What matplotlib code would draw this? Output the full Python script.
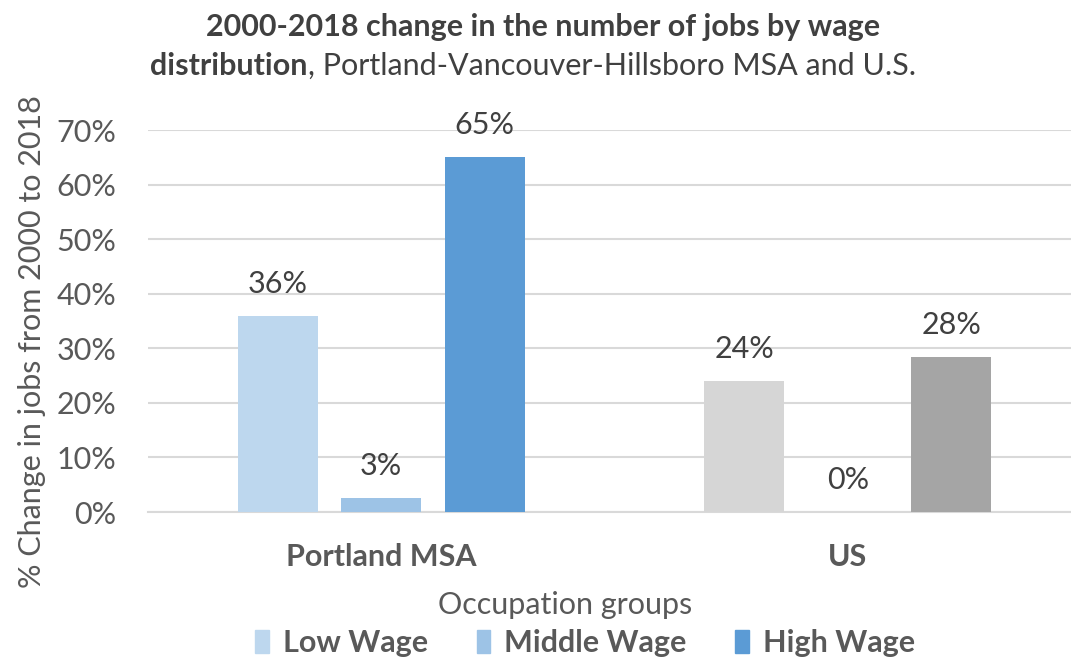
import matplotlib
matplotlib.use("Agg")
import matplotlib.pyplot as plt
import matplotlib.patches as mpatches
import numpy as np

plt.rcParams['font.family'] = ['Lato', 'DejaVu Sans']

# dades llegides del grafic
groups = ['Portland MSA', 'US']
series = ['Low Wage', 'Middle Wage', 'High Wage']
portland = [36, 2.6, 65]
us = [24, 0, 28.4]
portland_labels = ['36%', '3%', '65%']
us_labels = ['24%', '0%', '28%']
yticks = [0, 10, 20, 30, 40, 50, 60, 70]

blues = ['#bdd7ee', '#9dc3e6', '#5b9bd5']
greys = ['#d6d6d6', '#bfbfbf', '#a5a5a5']
txt = '#595959'
fs = 22

fig = plt.figure(figsize=(10.71, 6.61), dpi=100)
ax = fig.add_axes([148/1071, 1-512/661, 933/1071, 382/661])

w = 0.171
off = 0.222
x = np.arange(len(groups))
for i in range(3):
    pos = x + (i-1)*off
    vals = [portland[i], us[i]]
    cols = [blues[i], greys[i]]
    labs = [portland_labels[i], us_labels[i]]
    ax.bar(pos, vals, width=w, color=cols, zorder=3)
    for p, v, l in zip(pos, vals, labs):
        ax.annotate(l, (p, v), xytext=(0, 23), textcoords='offset points',
                    ha='center', va='center', fontsize=fs, color='#404040')

ax.set_xlim(-0.5, 1.5)
ax.set_ylim(0, 70)
ax.set_yticks(yticks)
ax.set_yticklabels([str(t)+'%' for t in yticks], fontsize=fs, color=txt)
ax.set_xticks(x)
ax.set_xticklabels(groups, fontsize=fs, fontweight='bold', color=txt)
ax.tick_params(axis='y', length=0, pad=23)
ax.tick_params(axis='x', length=0, pad=22)
ax.grid(axis='y', color='#d9d9d9', linewidth=1.5, zorder=0)
for s in ['top', 'right', 'left']:
    ax.spines[s].set_visible(False)
ax.spines['bottom'].set_color('#d9d9d9')
ax.spines['bottom'].set_linewidth(1.5)

fig.text(32/1071, 1-342/661, '% Change in jobs from 2000 to 2018', rotation=90,
         ha='center', va='center', fontsize=fs, color=txt)
fig.text(565/1071, 1-605/661, 'Occupation groups', ha='center', va='center',
         fontsize=fs, color=txt)

# titol, segona linia amb part en negreta
fig.text(543/1071, 1-27/661, '2000-2018 change in the number of jobs by wage',
         ha='center', va='center', fontsize=fs, fontweight='bold', color='#404040')
t1 = fig.text(150/1071, 1-66/661, 'distribution', ha='left', va='center',
              fontsize=fs, fontweight='bold', color='#404040')
fig.canvas.draw()
bb = t1.get_window_extent()
fig.text(bb.x1/fig.bbox.width, 1-66/661, ', Portland-Vancouver-Hillsboro MSA and U.S.',
         ha='left', va='center', fontsize=fs, color='#404040')

handles = [mpatches.Patch(color=c) for c in blues]
leg = fig.legend(handles, series, loc='center', bbox_to_anchor=(585/1071, 1-643/661),
                 ncol=3, frameon=False, handlelength=0.45, handleheight=0.8,
                 columnspacing=1.6, handletextpad=0.45,
                 prop={'size': fs, 'weight': 'bold'})
for t in leg.get_texts():
    t.set_color(txt)

fig.savefig('out.png', dpi=100)
